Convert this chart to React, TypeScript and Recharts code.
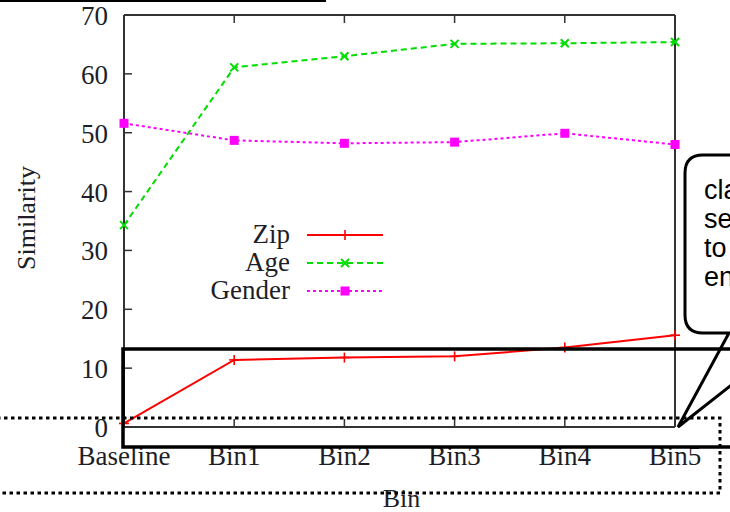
import React from 'react';
import { LineChart, Line, XAxis, YAxis, Legend } from 'recharts';

const bins = ['Baseline', 'Bin1', 'Bin2', 'Bin3', 'Bin4', 'Bin5'];
const zipValues = [0.6, 11.4, 11.8, 12.0, 13.5, 15.6];
const ageValues = [34.3, 61.1, 63.0, 65.1, 65.2, 65.4];
const genderValues = [51.6, 48.7, 48.2, 48.4, 49.9, 48.0];
const yTicks = [0, 10, 20, 30, 40, 50, 60, 70];
const seriesNames = ['Zip', 'Age', 'Gender'];
const calloutLines = ['cla', 'se', 'to', 'en'];

const data = bins.map((bin, i) => ({
  bin,
  Zip: zipValues[i],
  Age: ageValues[i],
  Gender: genderValues[i],
}));

const COLORS: Record<string, string> = { Zip: '#ff0000', Age: '#00dd00', Gender: '#ff00ff' };
const DASH: Record<string, string | undefined> = { Zip: undefined, Age: '6 4', Gender: '3 3' };
const FONT = '"Liberation Serif", "Times New Roman", serif';
const TEXT = '#1e1e28';

const PlusMark = ({ cx, cy, color }: any) => (
  <g>
    <line x1={cx - 5} y1={cy} x2={cx + 5} y2={cy} stroke={color} strokeWidth={1.6} />
    <line x1={cx} y1={cy - 5} x2={cx} y2={cy + 5} stroke={color} strokeWidth={1.6} />
  </g>
);
const XMark = ({ cx, cy, color }: any) => (
  <g>
    <line x1={cx - 4} y1={cy - 4} x2={cx + 4} y2={cy + 4} stroke={color} strokeWidth={2} />
    <line x1={cx - 4} y1={cy + 4} x2={cx + 4} y2={cy - 4} stroke={color} strokeWidth={2} />
  </g>
);
const SquareMark = ({ cx, cy, color }: any) => (
  <rect x={cx - 4.5} y={cy - 4.5} width={9} height={9} fill={color} />
);
const MARKS: Record<string, any> = { Zip: PlusMark, Age: XMark, Gender: SquareMark };

const makeDot = (name: string) => (props: any) => {
  const M = MARKS[name];
  if (props.cx == null || props.cy == null) return <g key={`${name}-${props.index}`} />;
  return <M key={`${name}-${props.index}`} cx={props.cx} cy={props.cy} color={COLORS[name]} />;
};

const BottomTick = (props: any) => {
  const { x, y, payload } = props;
  return (
    <g>
      <line x1={x} y1={y} x2={x} y2={y - 8} stroke="#333" strokeWidth={1.5} />
      <text x={x} y={y + 38} textAnchor="middle" fontFamily={FONT} fontSize={27} fill={TEXT}>
        {payload.value}
      </text>
    </g>
  );
};
const TopTick = (props: any) => {
  const { x, y } = props;
  return <line x1={x} y1={y} x2={x} y2={y + 8} stroke="#333" strokeWidth={1.5} />;
};
const LeftTick = (props: any) => {
  const { x, y, payload } = props;
  return (
    <g>
      <line x1={x} y1={y} x2={x + 8} y2={y} stroke="#333" strokeWidth={1.5} />
      <text x={x - 16} y={y + 10} textAnchor="end" fontFamily={FONT} fontSize={27} fill={TEXT}>
        {payload.value}
      </text>
    </g>
  );
};
const RightTick = (props: any) => {
  const { x, y } = props;
  return <line x1={x} y1={y} x2={x - 8} y2={y} stroke="#333" strokeWidth={1.5} />;
};

const renderLegend = () => (
  <svg width={200} height={84} style={{ display: 'block' }}>
    {seriesNames.map((name: string, i: number) => {
      const cy = 15 + 28 * i;
      const M = MARKS[name];
      return (
        <g key={name}>
          <text x={90} y={cy + 8} textAnchor="end" fontFamily={FONT} fontSize={27} fill={TEXT}>
            {name}
          </text>
          <line x1={107} y1={cy} x2={183} y2={cy} stroke={COLORS[name]} strokeWidth={2} strokeDasharray={DASH[name]} />
          <M cx={145} cy={cy} color={COLORS[name]} />
        </g>
      );
    })}
  </svg>
);

const YLabel = (props: any) => {
  const vb = props.viewBox || { x: 0, y: 15, width: 124, height: 412 };
  const cx = 35;
  const cy = vb.y + vb.height / 2 - 3;
  return (
    <text x={cx} y={cy} transform={`rotate(-90, ${cx}, ${cy})`} textAnchor="middle" fontFamily={FONT} fontSize={26} fill={TEXT}>
      Similarity
    </text>
  );
};
const XLabel = (props: any) => {
  const vb = props.viewBox || { x: 124, y: 427, width: 551, height: 85 };
  return (
    <text x={vb.x + vb.width / 2 + 2} y={vb.y + 80} textAnchor="middle" fontFamily={FONT} fontSize={26} fill={TEXT}>
      Bin
    </text>
  );
};

const Annotations = () => (
  <svg width={730} height={512} style={{ position: 'absolute', left: 0, top: 0, pointerEvents: 'none' }}>
    <line x1={0} y1={1} x2={326} y2={1} stroke="#000" strokeWidth={2} />
    <path
      d="M 762 361 L 678 427 L 729 333 L 703 333 Q 685 333 685 315 L 685 173 Q 685 155 703 155 L 762 155"
      fill="#fff"
      stroke="#000"
      strokeWidth={3}
      strokeLinejoin="miter"
    />
    {calloutLines.map((t, i) => (
      <text key={t} x={704} y={199 + 29 * i} fontFamily='"Liberation Sans", Arial, sans-serif' fontSize={27} fill="#000">
        {t}
      </text>
    ))}
    <rect x={123} y={349} width={640} height={98} fill="none" stroke="#000" strokeWidth={3.5} />
    <rect x={-10} y={418} width={730} height={75} fill="none" stroke="#000" strokeWidth={3} strokeDasharray="3.5 3.5" />
  </svg>
);

export default function App() {
  return (
    <div style={{ position: 'absolute', left: 0, top: 0, width: 730, height: 512, background: '#fff', overflow: 'hidden' }}>
      <LineChart width={730} height={512} data={data} margin={{ top: 14, right: 54, left: 0, bottom: 0 }}>
        <XAxis
          dataKey="bin"
          height={85}
          tickSize={0}
          tickMargin={0}
          tick={<BottomTick />}
          axisLine={{ stroke: '#333', strokeWidth: 2 }}
          interval={0}
          label={<XLabel />}
        />
        <XAxis
          xAxisId="top"
          orientation="top"
          dataKey="bin"
          height={1}
          tickSize={0}
          tickMargin={0}
          tick={<TopTick />}
          axisLine={{ stroke: '#333', strokeWidth: 2 }}
          interval={0}
        />
        <YAxis
          width={124}
          domain={[0, 70]}
          ticks={yTicks}
          type="number"
          tickSize={0}
          tickMargin={0}
          tick={<LeftTick />}
          axisLine={{ stroke: '#333', strokeWidth: 2 }}
          interval={0}
          label={<YLabel />}
        />
        <YAxis
          yAxisId="right"
          orientation="right"
          width={1}
          domain={[0, 70]}
          ticks={yTicks}
          type="number"
          tickSize={0}
          tickMargin={0}
          tick={<RightTick />}
          axisLine={{ stroke: '#333', strokeWidth: 2 }}
          interval={0}
        />
        <Legend
          content={renderLegend}
          layout="vertical"
          align="center"
          verticalAlign="middle"
          wrapperStyle={{ position: 'absolute', left: 200, top: 220, width: 200, height: 84 }}
        />
        <Line dataKey="Zip" stroke={COLORS.Zip} strokeWidth={2} dot={makeDot('Zip')} isAnimationActive={false} />
        <Line dataKey="Age" stroke={COLORS.Age} strokeWidth={2} strokeDasharray={DASH.Age} dot={makeDot('Age')} isAnimationActive={false} />
        <Line dataKey="Gender" stroke={COLORS.Gender} strokeWidth={2} strokeDasharray={DASH.Gender} dot={makeDot('Gender')} isAnimationActive={false} />
      </LineChart>
      <Annotations />
    </div>
  );
}
